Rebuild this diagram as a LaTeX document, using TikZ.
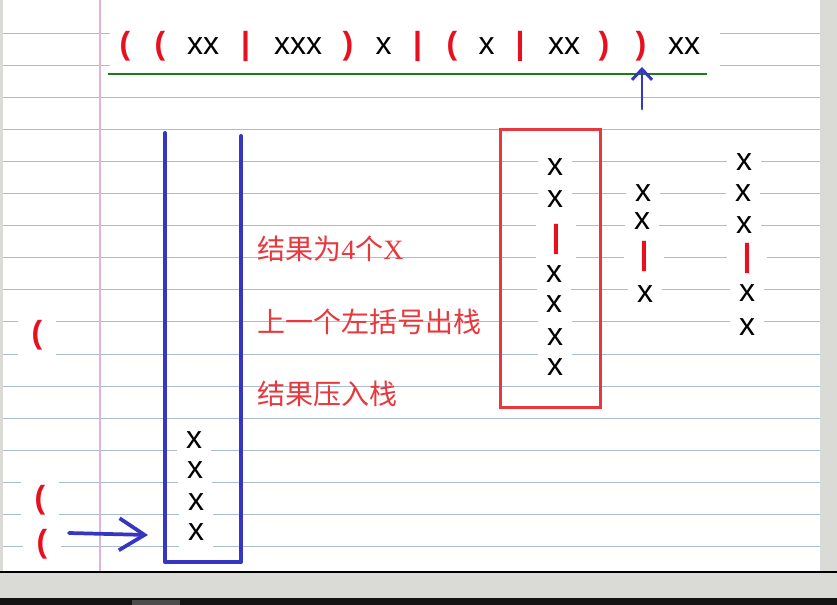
\documentclass[tikz,border=0pt]{standalone}
\usepackage{fontspec}
\setmainfont{Liberation Sans}
\newfontfamily\cjkf{Noto Sans CJK SC}
\newfontfamily\lserif{Liberation Serif}
\usetikzlibrary{arrows.meta}
\definecolor{rulec}{HTML}{A8BCD2}
\definecolor{marginc}{HTML}{E2B4D4}
\definecolor{chromec}{HTML}{DADAD6}
\definecolor{penred}{HTML}{E8101E}
\definecolor{boxred}{HTML}{E8383D}
\definecolor{penblue}{HTML}{3636C0}
\definecolor{pengreen}{HTML}{1C7C1C}
\tikzset{
  tok/.style={font=\fontsize{24}{28}\selectfont, anchor=base, inner sep=0pt, text=black},
  xt/.style={tok, fill=white, inner xsep=6.75pt, inner ysep=6pt},
  pr/.style={tok, text=penred, font=\fontsize{24}{28}\selectfont\bfseries},
  prw/.style={pr, fill=white, inner xsep=10pt, inner ysep=4pt},
  br/.style={pr, fill=white, inner xsep=12pt, inner ysep=6pt},
  note/.style={font=\cjkf\fontsize{21}{24}\selectfont, text=boxred, anchor=base west, inner sep=0pt},
  bluepen/.style={draw=penblue, line width=2.8pt, line cap=round, line join=round},
}
\begin{document}
\begin{tikzpicture}[x=0.75pt,y=-0.75pt]
\useasboundingbox (0,0) rectangle (837,605);
% paper
\fill[white] (0,0) rectangle (837,572);
\foreach \yy in {34,66,...,546} \draw[rulec, line width=0.75pt] (3,\yy) -- (820,\yy);
\draw[marginc, line width=1.1pt] (100,0) -- (100,572);
% window chrome
\fill[chromec] (820,0) rectangle (837,572);
\fill[chromec] (0,0) rectangle (3,572);
\fill[chromec] (0,572) rectangle (837,598);
\draw[black, line width=1.5pt] (0,572) -- (837,572);
\fill[black!92] (0,598) rectangle (837,605);
\fill[black!70] (132,600) rectangle (180,605);
% top expression
\fill[white] (110,29) rectangle (720,70);
\node[pr]  (t1)  at (125,55) {(};
\node[pr]  (t2)  at (160,55) {(};
\node[tok] (t3)  at (203,55) {xx};
\node[pr]  (t4)  at (245.5,55) {|};
\node[tok] (t5)  at (298,55) {xxx};
\node[pr]  (t6)  at (348,55) {)};
\node[tok] (t7)  at (383.5,55) {x};
\node[pr]  (t8)  at (417.5,55) {|};
\node[pr]  (t9)  at (452,55) {(};
\node[tok] (t10) at (486.5,55) {x};
\node[pr]  (t11) at (520,55) {|};
\node[tok] (t12) at (564,55) {xx};
\node[pr]  (t13) at (604,55) {)};
\node[pr]  (t14) at (641,55) {)};
\node[tok] (t15) at (684,55) {xx};
\draw[pengreen, line width=1.5pt] (108,74) -- (707,74);
% up arrow
\coordinate (ub) at (642,109);
\coordinate (ut) at (642,67);
\draw[bluepen, line width=2.2pt, -{Straight Barb[length=8pt,width=15pt]}] (ub) -- (ut);
% stack
\draw[bluepen, line width=3pt] (165,133) -- (165,562) -- (241,562) -- (241,136);
\node[xt] (s1) at (194,448) {x};
\node[xt] (s2) at (195,478) {x};
\node[xt] (s3) at (196,510) {x};
\node[xt] (s4) at (196,540) {x};
% left parens
\node[prw] (l1) at (37,343) {(};
\node[prw] (l2) at (40,508) {(};
\node[prw] (l3) at (42,552) {(};
% left arrow
\coordinate (la) at (69,533);
\coordinate (lb) at (148,535);
\draw[bluepen, -{Straight Barb[length=19pt,width=24pt]}] (la) -- (lb);
% notes
\node[note] (n1) at (257,260) {结果为{\lserif 4}个{\lserif X}};
\node[note] (n2) at (257,332) {上一个左括号出栈};
\node[note] (n3) at (257,404) {结果压入栈};
% red box and column
\draw[boxred, line width=2.25pt] (500,130) rectangle (600,407);
\node[xt] (r1) at (555,176) {x};
\node[xt] (r2) at (555,208) {x};
\node[br] (r3) at (556,248) {|};
\node[xt] (r4) at (554,283) {x};
\node[xt] (r5) at (554,313) {x};
\node[xt] (r6) at (555,345) {x};
\node[xt] (r7) at (555,375) {x};
% column 2
\node[xt, inner ysep=1pt] (c1) at (643,202) {x};
\node[xt, inner ysep=1pt] (c2) at (642,230) {x};
\node[br] (c3) at (644,265) {|};
\node[xt] (c4) at (645,303) {x};
% column 3
\node[xt] (d1) at (744,171) {x};
\node[xt] (d2) at (743,202) {x};
\node[xt] (d3) at (744,234) {x};
\node[br] (d4) at (747,267) {|};
\node[xt] (d5) at (747,302) {x};
\node[xt] (d6) at (747,335) {x};
\end{tikzpicture}
\end{document}
